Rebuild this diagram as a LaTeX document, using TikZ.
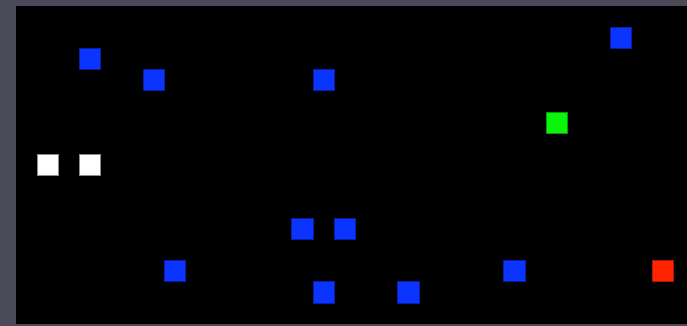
\documentclass[tikz,border=0pt]{standalone}
\definecolor{boardFrame}{RGB}{74,74,88}
\definecolor{cellBlue}{RGB}{12,52,255}
\definecolor{cellBlueEdge}{RGB}{8,30,170}
\definecolor{cellGreen}{RGB}{10,245,10}
\definecolor{cellGreenEdge}{RGB}{10,150,10}
\definecolor{cellRed}{RGB}{255,36,0}
\definecolor{cellRedEdge}{RGB}{170,25,0}
\begin{document}
\begin{tikzpicture}
% Board snapshot: grid cells drawn on a black field
\def\cellsz{0.5cm}
\providecommand{\boardCellLineWidth}{0.5pt}
\begin{scope}[x=\cellsz, y=-\cellsz, line join=miter]
  % Outer frame (page background)
  \fill[boardFrame] (-0.754,-0.283) rectangle (31.636,15.087);
  % Black field
  \fill[black] (0,0) rectangle (31.636,15);
  % Blue cells
  \begin{scope}[fill=cellBlue, draw=cellBlueEdge, line width=\boardCellLineWidth]
    \filldraw (28,1) rectangle ++(1,1);
    \filldraw (3,2) rectangle ++(1,1);
    \filldraw (6,3) rectangle ++(1,1);
    \filldraw (14,3) rectangle ++(1,1);
    \filldraw (13,10) rectangle ++(1,1);
    \filldraw (15,10) rectangle ++(1,1);
    \filldraw (7,12) rectangle ++(1,1);
    \filldraw (23,12) rectangle ++(1,1);
    \filldraw (14,13) rectangle ++(1,1);
    \filldraw (18,13) rectangle ++(1,1);
  \end{scope}
  % Green cell
  \begin{scope}[fill=cellGreen, draw=cellGreenEdge, line width=\boardCellLineWidth]
    \filldraw (25,5) rectangle ++(1,1);
  \end{scope}
  % White cells
  \begin{scope}[fill=white, draw=black!45, line width=\boardCellLineWidth]
    \filldraw (1,7) rectangle ++(1,1);
    \filldraw (3,7) rectangle ++(1,1);
  \end{scope}
  % Red cell
  \begin{scope}[fill=cellRed, draw=cellRedEdge, line width=\boardCellLineWidth]
    \filldraw (30,12) rectangle ++(1,1);
  \end{scope}
\end{scope}
\end{tikzpicture}
\end{document}
